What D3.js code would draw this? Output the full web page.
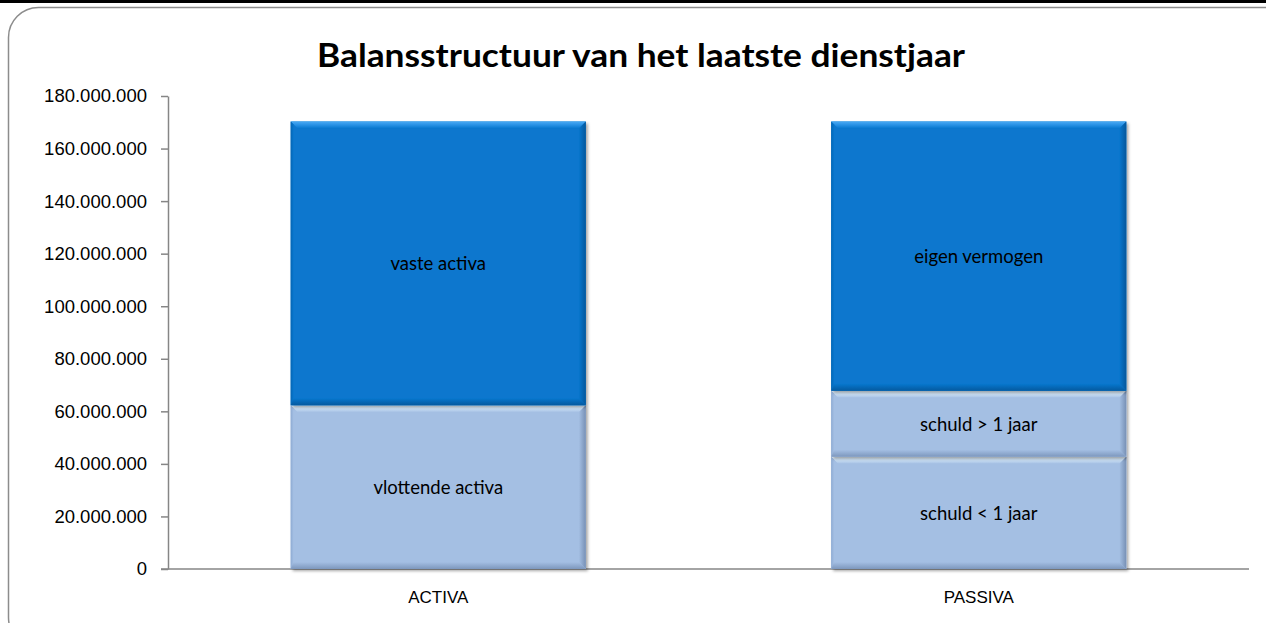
<!DOCTYPE html>
<html>
<head>
<meta charset="utf-8">
<script src="https://cdn.jsdelivr.net/npm/d3@7"></script>
<style>
  html, body { margin: 0; padding: 0; background: #fff; overflow: hidden; }
  svg { display: block; }
</style>
</head>
<body>
<svg id="canvas"></svg>
<script>
// data
let categories = ['ACTIVA', 'PASSIVA']
let activaLabels = ['vlottende activa', 'vaste activa']
let activaValues = [62300000, 108000000]
let passivaLabels = ['schuld < 1 jaar', 'schuld > 1 jaar', 'eigen vermogen']
let passivaValues = [42700000, 25100000, 102500000]
let yTicks = [0, 20000000, 40000000, 60000000, 80000000, 100000000, 120000000, 140000000, 160000000, 180000000]
let title = 'Balansstructuur van het laatste dienstjaar'

let width = 1266
let height = 623

let canvas = d3.select('#canvas')
canvas.attr('width', width)
      .attr('height', height)

let nl = d3.formatLocale({decimal: ',', thousands: '.', grouping: [3], currency: ['€ ', '']})
let fmt = nl.format(',d')

// stack the segments per category
let segments = []
let stackUp = (cat, labels, values) => {
    let acc = 0
    labels.forEach((lab, i) => {
        segments.push({cat: cat, label: lab, y0: acc, y1: acc + values[i], dark: lab === 'vaste activa' || lab === 'eigen vermogen'})
        acc += values[i]
    })
}
stackUp('ACTIVA', activaLabels, activaValues)
stackUp('PASSIVA', passivaLabels, passivaValues)

let xScale = d3.scaleBand()
               .domain(categories)
               .range([168, 1249])
               .paddingInner(0.454)
               .paddingOuter(0.227)

let yScale = d3.scaleLinear()
               .domain([0, 180000000])
               .range([569, 96])

// frame + black strip at the top
canvas.append('rect')
      .attr('x', 0).attr('y', 0).attr('width', width).attr('height', 3)
      .attr('fill', '#000')
canvas.append('rect')
      .attr('x', 8.5).attr('y', 7.5).attr('width', 1290).attr('height', 640)
      .attr('rx', 30).attr('ry', 30)
      .attr('fill', '#fff')
      .attr('stroke', '#8c8c8c')
      .attr('stroke-width', 1.5)

let defs = canvas.append('defs')
let shadow = defs.append('filter').attr('id', 'shadow')
                 .attr('x', '-10%').attr('y', '-10%').attr('width', '130%').attr('height', '130%')
shadow.append('feDropShadow')
      .attr('dx', 2).attr('dy', 2).attr('stdDeviation', 1.5)
      .attr('flood-color', '#000').attr('flood-opacity', 0.35)

let addGrad = (id, x2, y2, stops) => {
    let g = defs.append('linearGradient').attr('id', id)
                .attr('x1', 0).attr('y1', 0).attr('x2', x2).attr('y2', y2)
    stops.forEach(s => g.append('stop').attr('offset', s[0]).attr('stop-color', s[1]).attr('stop-opacity', s[2]))
}
// bevel pieces
addGrad('topD', 0, 1, [[0, '#4aaaf4', 1], [0.45, '#2b93e6', 1], [1, '#0777ce', 1]])
addGrad('topL', 0, 1, [[0, '#eaf6ff', 1], [0.45, '#cde2f7', 1], [1, '#a4bfe3', 1]])
addGrad('leftD', 1, 0, [[0, '#0566b5', 1], [1, '#0777ce', 1]])
addGrad('leftL', 1, 0, [[0, '#8eabd3', 1], [1, '#a4bfe3', 1]])
addGrad('rightD', 1, 0, [[0, '#0777ce', 1], [1, '#04579c', 1]])
addGrad('rightL', 1, 0, [[0, '#a4bfe3', 1], [1, '#7790b5', 1]])
addGrad('botD', 0, 1, [[0, '#0777ce', 1], [1, '#04599f', 1]])
addGrad('botL', 0, 1, [[0, '#a4bfe3', 1], [1, '#7d97bd', 1]])

// axes
let yAxis = d3.axisLeft(yScale)
              .tickValues(yTicks)
              .tickFormat(fmt)
              .tickSize(7)
              .tickSizeOuter(0)
let yg = canvas.append('g')
               .attr('id', 'y-axis')
               .attr('transform', 'translate(168,0)')
               .call(yAxis)
yg.select('.domain').attr('stroke', '#868686').attr('stroke-width', 1.5)
yg.selectAll('.tick line').attr('stroke', '#868686').attr('stroke-width', 1.5)
yg.selectAll('.tick text')
  .attr('x', -21)
  .attr('fill', '#000')
  .attr('font-family', 'Liberation Sans, Arial, sans-serif')
  .attr('font-size', 18.5)

let xAxis = d3.axisBottom(xScale).tickSize(0).tickSizeOuter(0)
let xg = canvas.append('g')
               .attr('id', 'x-axis')
               .attr('transform', 'translate(0,569)')
               .call(xAxis)
xg.select('.domain').attr('stroke', '#868686').attr('stroke-width', 1.5)
  .attr('d', 'M161,0H1249')
xg.selectAll('.tick text')
  .attr('y', 22)
  .attr('fill', '#000')
  .attr('font-family', 'Liberation Sans, Arial, sans-serif')
  .attr('font-size', 17)

// bars
let bw = xScale.bandwidth()
let bev = 7
let groups = canvas.selectAll('g.seg')
                   .data(segments)
                   .enter()
                   .append('g')
                   .attr('class', 'seg')
groups.each(function (d) {
    let g = d3.select(this)
    let x0 = xScale(d.cat)
    let x1 = x0 + bw
    let top = yScale(d.y1)
    let bot = yScale(d.y0)
    let k = d.dark ? 'D' : 'L'
    g.append('rect')
     .attr('x', x0).attr('y', top).attr('width', bw).attr('height', bot - top)
     .attr('fill', d.dark ? '#0777ce' : '#a4bfe3')
     .attr('filter', 'url(#shadow)')
    g.append('polygon')
     .attr('points', [[x0, top], [x1, top], [x1 - bev, top + bev], [x0 + bev, top + bev]].join(' '))
     .attr('fill', 'url(#top' + k + ')')
    g.append('polygon')
     .attr('points', [[x0, top], [x0 + 3, top + 3], [x0 + 3, bot - 3], [x0, bot]].join(' '))
     .attr('fill', 'url(#left' + k + ')')
    g.append('polygon')
     .attr('points', [[x1, top], [x1, bot], [x1 - bev, bot - bev], [x1 - bev, top + bev]].join(' '))
     .attr('fill', 'url(#right' + k + ')')
    g.append('polygon')
     .attr('points', [[x0, bot], [x1, bot], [x1 - bev, bot - bev], [x0 + 3, bot - bev]].join(' '))
     .attr('fill', 'url(#bot' + k + ')')
    g.append('text')
     .attr('x', x0 + bw / 2)
     .attr('y', (top + bot) / 2 + 7)
     .attr('text-anchor', 'middle')
     .attr('font-family', 'Lato, Open Sans, sans-serif')
     .attr('font-size', 18.5)
     .attr('fill', '#000')
     .text(d.label)
})

// title
canvas.append('text')
      .attr('x', 641)
      .attr('y', 67)
      .attr('text-anchor', 'middle')
      .attr('font-family', 'Lato, Open Sans, sans-serif')
      .attr('font-weight', 'bold')
      .attr('font-size', 33)
      .attr('textLength', 648)
      .attr('lengthAdjust', 'spacingAndGlyphs')
      .attr('fill', '#000')
      .text(title)
</script>
</body>
</html>
